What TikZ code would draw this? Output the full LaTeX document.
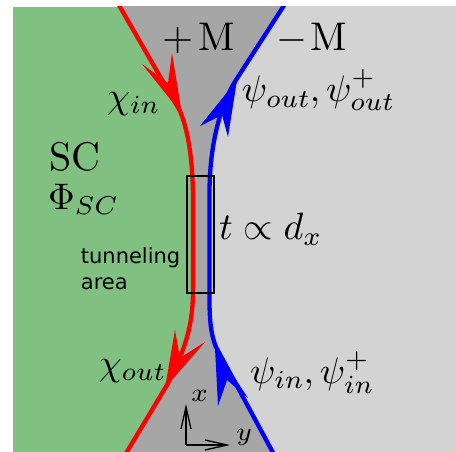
\documentclass[tikz,border=0pt]{standalone}
\usepackage{fontspec}
\setmainfont{lmroman10-regular}[Extension=.otf, ItalicFont=lmroman10-italic, BoldFont=lmroman10-bold]
\newfontfamily\dejavu{DejaVu Sans}
\usetikzlibrary{arrows.meta}
\DeclareFontShape{OML}{cmm}{m}{it}{<-15>cmmi5<15-29>cmmi7<29->cmmi10}{}
\DeclareFontShape{OMS}{cmsy}{m}{n}{<-15>cmsy5<15-29>cmsy7<29->cmsy10}{}
\DeclareFontShape{OT1}{cmr}{m}{n}{<-15>cmr5<15-29>cmr7<29->cmr10}{}
\DeclareFontShape{OMX}{cmex}{m}{n}{<->cmex10}{}
\definecolor{scgreen}{RGB}{128,192,128}
\definecolor{darkgr}{RGB}{166,166,166}
\definecolor{lightgr}{RGB}{211,211,211}
\tikzset{
  lbl/.style={inner sep=0pt, anchor=base west, font=\fontsize{37}{42}\selectfont},
  tlbl/.style={lbl, font=\fontsize{38}{42}\selectfont},
  biglbl/.style={lbl, font=\fontsize{40}{44}\selectfont},
  smalllbl/.style={lbl, font=\fontsize{26}{30}\selectfont},
  sanslbl/.style={inner sep=0pt, anchor=base west, font=\dejavu\fontsize{21}{26}\selectfont},
  edgeline/.style={line width=4.3pt},
  axis/.style={line width=1.3pt, -{Straight Barb[length=22pt,width=10pt]}},
  tunnelbox/.style={draw=black, line width=1.8pt, inner sep=0pt, minimum width=27.6pt, minimum height=116.7pt},
}
\begin{document}
\begin{tikzpicture}[x=1pt,y=-1pt]
\useasboundingbox (0,0) rectangle (456,452);
\def\redpath{(116,0) -- (180,111) .. controls (188,130) and (193,160) .. (193,200) -- (193,290) .. controls (193,320) and (188,345) .. (167,385) -- (122,460)}
\def\bluepath{(287.5,0) -- (236,80) .. controls (222,102) and (210,140) .. (209.5,190) -- (209.5,300) .. controls (209.5,320) and (211,335) .. (216,347) -- (277,460)}
\begin{scope}
  \clip (13,7) rectangle (456,452);
  \fill[scgreen] (13,7) rectangle (456,452);
  \fill[darkgr] \redpath -- (460,460) -- (460,0) -- cycle;
  \fill[lightgr] \bluepath -- (460,460) -- (460,0) -- cycle;
  \draw[edgeline, red] \redpath;
  \draw[edgeline, blue] \bluepath;
  % arrowheads
  \fill[red] (182,114) -- (172,53) -- (168,83) -- (142,64) -- cycle;
  \fill[blue] (237,80) -- (200,126) -- (222,115) -- (228,137) -- cycle;
  \fill[red] (165,388) -- (175,330) -- (180,358) -- (205,342) -- cycle;
  \fill[blue] (215,348) -- (218,406) -- (227,380) -- (248,398) -- cycle;
\end{scope}
\node[tunnelbox] (box) at (200.5,234.3) {};
% labels
\node[biglbl] (plusM) at (161.8,50.7) {$+\mkern2.6mu\mathrm{M}$};
\node[biglbl] (minusM) at (276.1,50.7) {$-\mkern1.4mu\mathrm{M}$};
\node[lbl] (chiin) at (106.7,108.3) {$\chi_{in}$};
\node[lbl] (psiout) at (241.7,101.7) {$\psi_{out},\psi^+_{out}$};
\node[biglbl] (sc) at (49.5,171) {SC};
\node[lbl] (phi) at (48,209) {$\Phi_{SC}$};
\node[tlbl] (tprop) at (219,240) {$t\propto d_x$};
\node[sanslbl] (tun1) at (80.7,263.3) {tunneling};
\node[sanslbl] (tun2) at (80.7,289.3) {area};
\node[lbl] (chiout) at (98.3,375) {$\chi_{out}$};
\node[lbl] (psiin) at (250,383.3) {$\psi_{in},\psi^+_{in}$};
% axes
\coordinate (O) at (186,445);
\coordinate (xa) at (186,404);
\coordinate (ya) at (230,445);
\draw[axis] (O) -- (xa);
\draw[axis] (O) -- (ya);
\node[smalllbl] (xl) at (191,401.7) {$x$};
\node[smalllbl] (yl) at (236,440) {$y$};
\end{tikzpicture}
\end{document}
